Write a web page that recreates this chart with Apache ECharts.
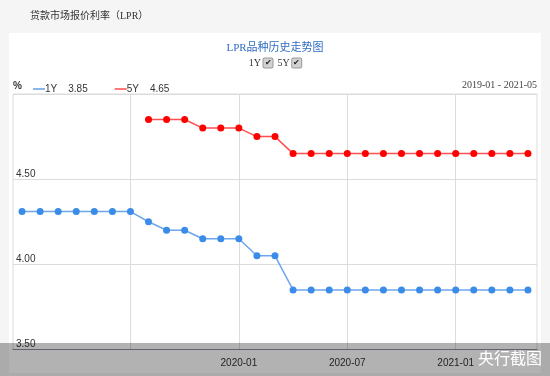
<!DOCTYPE html>
<html>
<head>
<meta charset="utf-8">
<script src="https://cdn.jsdelivr.net/npm/echarts@6/dist/echarts.min.js"></script>
<style>
  html, body { margin: 0; padding: 0; background: #f5f5f5; }
  #main { width: 550px; height: 376px; }
</style>
</head>
<body>
<div id="main"></div>
<script>
// months 2019-01 .. 2021-05
var months = ['2019-01','2019-02','2019-03','2019-04','2019-05','2019-06','2019-07','2019-08','2019-09','2019-10','2019-11','2019-12',
              '2020-01','2020-02','2020-03','2020-04','2020-05','2020-06','2020-07','2020-08','2020-09','2020-10','2020-11','2020-12',
              '2021-01','2021-02','2021-03','2021-04','2021-05'];
var lpr1y = [4.31,4.31,4.31,4.31,4.31,4.31,4.31,4.25,4.20,4.20,4.15,4.15,
             4.15,4.05,4.05,3.85,3.85,3.85,3.85,3.85,3.85,3.85,3.85,3.85,
             3.85,3.85,3.85,3.85,3.85];
var lpr5y = [null,null,null,null,null,null,null,4.85,4.85,4.85,4.80,4.80,
             4.80,4.75,4.75,4.65,4.65,4.65,4.65,4.65,4.65,4.65,4.65,4.65,
             4.65,4.65,4.65,4.65,4.65];
var gridMonths = ['2019-07','2020-01','2020-07','2021-01'];
var labelMonths = ['2020-01','2020-07','2021-01'];
var yTicks = [3.5, 4.0, 4.5, 5.0];

var serif = '"Liberation Serif", "DejaVu Serif", "Noto Sans CJK SC", serif';
var sans = '"Liberation Sans", Arial, "Noto Sans CJK SC", sans-serif';

var myChart = echarts.init(document.getElementById('main'));
var option = {
    backgroundColor: '#f5f5f5',
    animation: false,
    title: {
        text: 'LPR品种历史走势图',
        subtext: '1Y {box|✔}  5Y {box|✔}',
        left: 'center',
        top: 38,
        itemGap: 4,
        textStyle: { fontSize: 11, fontWeight: 'normal', color: '#2f6cc4', fontFamily: serif },
        subtextStyle: {
            fontSize: 10, color: '#333', fontFamily: serif,
            rich: {
                box: {
                    width: 9, height: 9, align: 'center', fontSize: 8, lineHeight: 10,
                    color: '#222', backgroundColor: '#d2d2d2', borderColor: '#9a9a9a',
                    borderWidth: 1, borderRadius: 1
                }
            }
        }
    },
    legend: {
        left: 28,
        top: 79,
        icon: 'rect',
        itemWidth: 12,
        itemHeight: 2,
        itemGap: 27,
        selectedMode: false,
        textStyle: {
            fontSize: 10, color: '#333', fontFamily: sans,
            padding: [0, 0, 0, -5],
            rich: { v: { fontSize: 10, color: '#333', padding: [0, 0, 0, 11] } }
        },
        data: [
            { name: '1Y', itemStyle: { color: '#8ab6ec' } },
            { name: '5Y', itemStyle: { color: '#ff7878' } }
        ],
        formatter: function (name) {
            var v = name === '1Y' ? lpr1y[lpr1y.length - 1] : lpr5y[lpr5y.length - 1];
            return name + '{v|' + v.toFixed(2) + '}';
        }
    },
    grid: {
        left: 13,
        right: 13,
        top: 94,
        bottom: 26.5,
        show: true,
        borderColor: '#dcdcdc',
        borderWidth: 1,
        backgroundColor: '#fff'
    },
    xAxis: {
        type: 'category',
        data: months,
        boundaryGap: true,
        axisTick: { show: false },
        axisLine: { lineStyle: { color: '#8a8f9c', width: 1 } },
        axisLabel: {
            margin: 9,
            fontSize: 10,
            color: '#333',
            fontFamily: sans,
            interval: function (i, v) { return labelMonths.indexOf(v) >= 0; }
        },
        splitLine: {
            show: true,
            alignWithLabel: true,
            interval: function (i, v) { return gridMonths.indexOf(v) >= 0; },
            lineStyle: { color: '#dcdcdc' }
        }
    },
    yAxis: {
        type: 'value',
        min: yTicks[0],
        max: yTicks[yTicks.length - 1],
        interval: 0.5,
        axisLine: { show: false },
        axisTick: { show: false },
        axisLabel: {
            inside: true,
            margin: 3,
            verticalAlign: 'bottom',
            fontSize: 10,
            color: '#333',
            fontFamily: sans,
            showMaxLabel: false,
            formatter: function (v) { return v.toFixed(2); }
        },
        splitLine: { lineStyle: { color: '#dcdcdc' } }
    },
    series: [
        {
            name: '1Y',
            type: 'line',
            data: lpr1y,
            symbol: 'circle',
            symbolSize: 7,
            itemStyle: { color: '#3a8ce8' },
            lineStyle: { color: '#6ea6ec', width: 1.5 }
        },
        {
            name: '5Y',
            type: 'line',
            data: lpr5y,
            symbol: 'circle',
            symbolSize: 7,
            itemStyle: { color: '#ff0000' },
            lineStyle: { color: '#ff5050', width: 1.5 }
        }
    ],
    graphic: [
        { type: 'rect', z: -10, silent: true, shape: { x: 9, y: 33, width: 532, height: 340 }, style: { fill: '#fff' } },
        { type: 'text', left: 30, top: 11, silent: true,
          style: { text: '贷款市场报价利率（LPR）', fontSize: 10, fill: '#333', fontFamily: serif } },
        { type: 'text', left: 13, top: 81, silent: true,
          style: { text: '%', fontSize: 10, fill: '#333', fontFamily: sans, fontWeight: 'bold' } },
        { type: 'text', right: 13, top: 80, silent: true,
          style: { text: months[0] + ' - ' + months[months.length - 1], fontSize: 10, fill: '#444', fontFamily: serif } },
        { type: 'rect', z: 100, silent: true, shape: { x: 0, y: 343, width: 550, height: 33 }, style: { fill: 'rgba(0,0,0,0.3)' } },
        { type: 'text', z: 101, right: 8, top: 350, silent: true,
          style: { text: '央行截图', fontSize: 16, fill: '#fff', fontFamily: '"Noto Sans CJK SC", sans-serif' } }
    ]
};
myChart.setOption(option);

window.onresize = function () {
    myChart.resize();
};
</script>
</body>
</html>
